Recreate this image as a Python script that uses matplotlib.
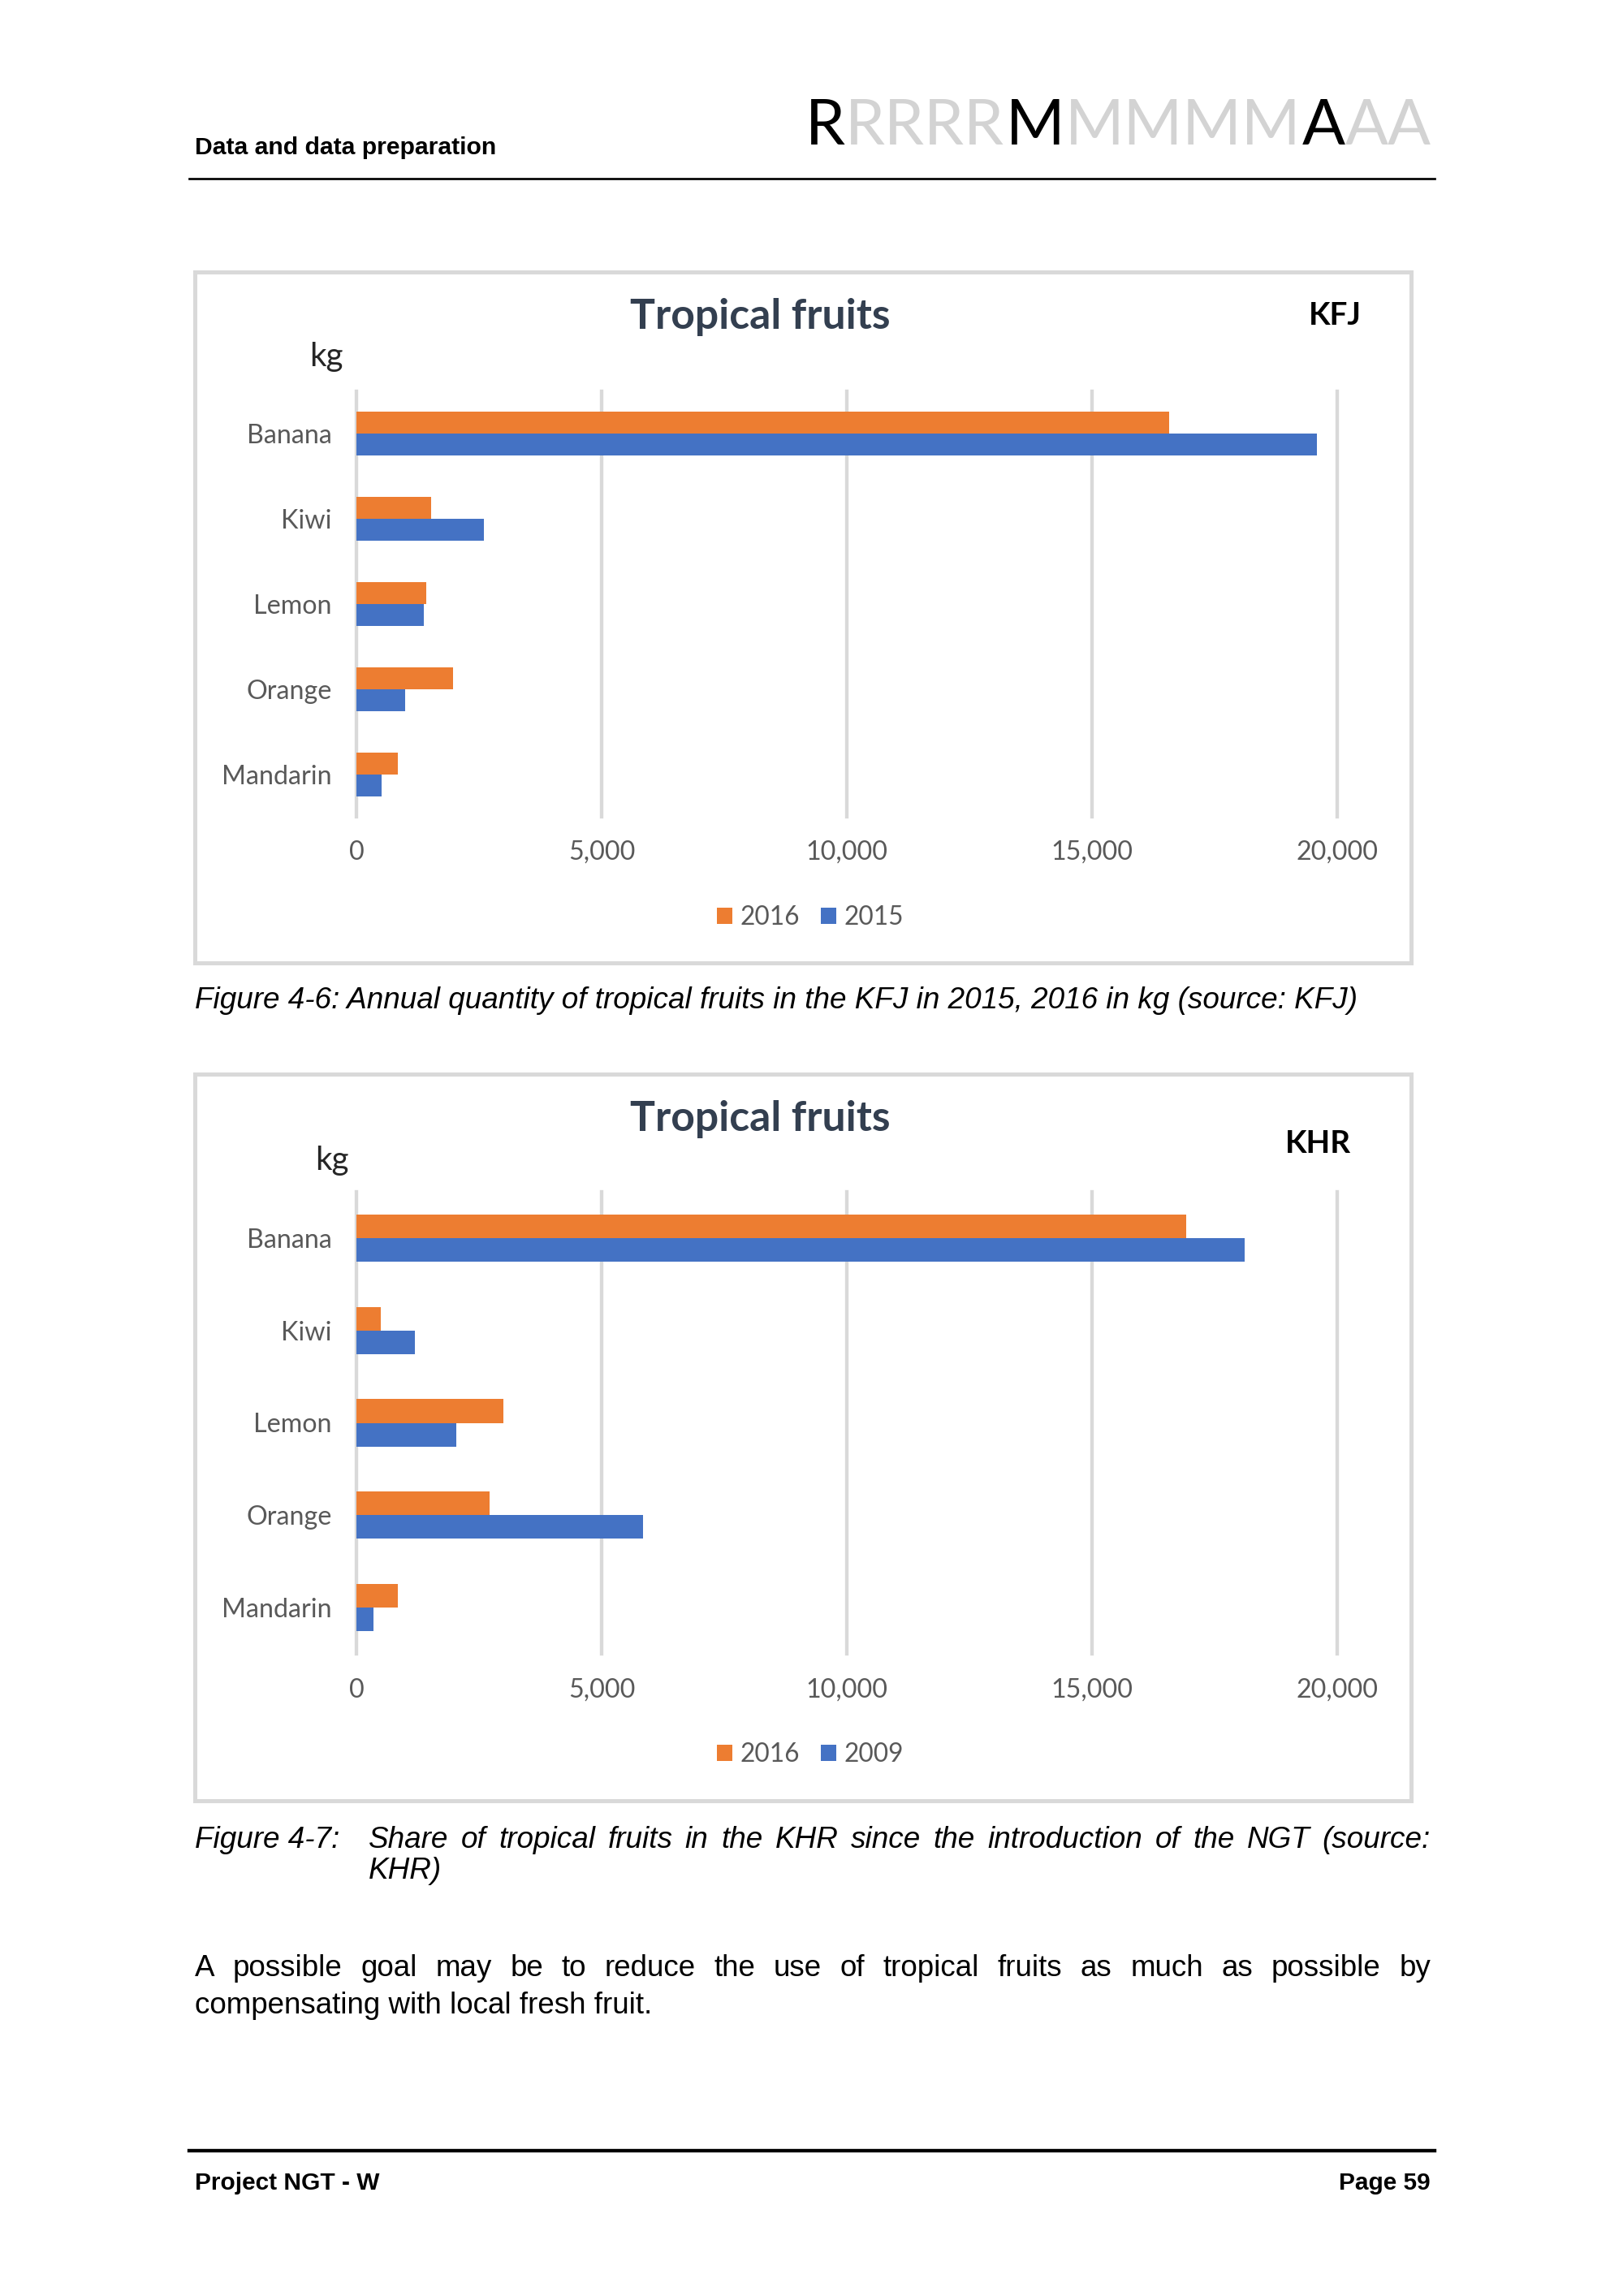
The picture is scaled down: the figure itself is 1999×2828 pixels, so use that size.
import matplotlib
matplotlib.use("Agg")
import matplotlib.pyplot as plt
from matplotlib.patches import Rectangle, Patch
from matplotlib.lines import Line2D

# ---------------- data ----------------
fruits = ["Banana", "Kiwi", "Lemon", "Orange", "Mandarin"]
kfj_2016 = [16570, 1520, 1430, 1970, 840]
kfj_2015 = [19590, 2600, 1380, 1000, 510]
khr_2016 = [16920, 490, 3000, 2710, 840]
khr_2009 = [18110, 1190, 2030, 5850, 350]
x_ticks = [0, 5000, 10000, 15000, 20000]
chart_title = "Tropical fruits"

ORANGE = "#ED7D31"
BLUE = "#4472C4"
GRID = "#D9D9D9"
TXT = "#595959"
TITLE_C = "#333F50"

W, H, DPI = 2000, 2828, 242
fig = plt.figure(figsize=(W / DPI, H / DPI), dpi=DPI)
fig.patch.set_facecolor("white")
renderer = fig.canvas.get_renderer()

def fx(x):
    return x / W

def fy(y):
    return 1 - y / H

BODY = ["Liberation Sans", "DejaVu Sans"]
CHART = ["Lato", "DejaVu Sans"]

def txt(x, y, s, **kw):
    return fig.text(fx(x), fy(y), s, **kw)

def fit(x, y, s, target_w, size=10, **kw):
    t = txt(x, y, s, fontsize=size, **kw)
    w = t.get_window_extent(renderer).width
    t.set_fontsize(size * target_w / w)
    return t.get_fontsize()

def justify(words, x0, x1, y, size, **kw):
    ts = [txt(x0, y, w_, fontsize=size, **kw) for w_ in words]
    widths = [t.get_window_extent(renderer).width for t in ts]
    gap = (x1 - x0 - sum(widths)) / (len(words) - 1)
    x = x0
    for t, w_ in zip(ts, widths):
        t.set_x(fx(x))
        x += w_ + gap

# ---------------- page header ----------------
fit(240, 182, "Data and data preparation", 371, size=9, family=BODY,
    weight="bold", ha="left", va="center", color="black")
fig.add_artist(Line2D([fx(233), fx(1767)], [fy(220), fy(220)], color="black", lw=0.8))

# logo: runs of letters, black lead letter followed by grey echoes
logo_runs = ["R", "RRRR", "M", "MMMM", "A", "AA"]
logo_black = [True, False, True, False, True, False]
logo_size = 21
run_texts = [txt(992, 156, r, fontsize=logo_size, family=CHART, ha="left", va="center",
                 color="black" if b else "#D3D3D3") for r, b in zip(logo_runs, logo_black)]
run_w = [t.get_window_extent(renderer).width for t in run_texts]
scale = 771 / sum(run_w)
xcur = 992
for t, w_ in zip(run_texts, run_w):
    t.set_fontsize(logo_size * scale)
    t.set_x(fx(xcur))
    xcur += w_ * scale

# ---------------- charts ----------------
def chart(box, plot, vals16, valsB, labB, title_y, tag, tag_xy, kg_xy, tick_y, leg_y):
    bx0, by0, bx1, by1 = box
    fig.add_artist(Rectangle((fx(bx0), fy(by1)), fx(bx1) - fx(bx0), fy(by0) - fy(by1),
                             fill=False, edgecolor=GRID, lw=1.5, transform=fig.transFigure))
    px0, py0, px1, py1 = plot
    ax = fig.add_axes([fx(px0), fy(py1), fx(px1) - fx(px0), fy(py0) - fy(py1)])
    h = 0.255
    pos = list(range(len(fruits)))
    ax.barh([p - h / 2 for p in pos], vals16, height=h, color=ORANGE, zorder=3)
    ax.barh([p + h / 2 for p in pos], valsB, height=h, color=BLUE, zorder=3)
    ax.set_ylim(len(fruits) - 0.5, -0.5)
    ax.set_xlim(x_ticks[0], x_ticks[-1])
    ax.set_xticks(x_ticks)
    ax.set_xticklabels([f"{v:,}" for v in x_ticks])
    ax.set_yticks(pos)
    ax.set_yticklabels(fruits)
    for s in ax.spines.values():
        s.set_visible(False)
    ax.grid(axis="x", color=GRID, lw=1.3, zorder=0)
    for gl in ax.get_xgridlines():
        gl.set_clip_on(False)
    ax.tick_params(length=0, labelsize=9.6, labelcolor=TXT)
    ax.tick_params(axis="y", pad=9)
    pad_px = tick_y - py1 - 15
    ax.tick_params(axis="x", pad=pad_px * 72 / DPI)
    for lab in ax.get_xticklabels() + ax.get_yticklabels():
        lab.set_family(CHART)
    ax.set_facecolor("none")

    fit(936, title_y, chart_title, 320, size=14, family=CHART, weight="bold",
        color=TITLE_C, ha="center", va="center")
    txt(tag_xy[0], tag_xy[1], tag, fontsize=11.5, family=CHART, weight="bold",
        color="black", ha="center", va="center")
    txt(kg_xy[0], kg_xy[1], "kg", fontsize=12, family=CHART, color="#262626",
        ha="center", va="center")
    handles = [Patch(facecolor=ORANGE, edgecolor="none"), Patch(facecolor=BLUE, edgecolor="none")]
    fig.legend(handles, ["2016", labB], loc="center", bbox_to_anchor=(fx(998), fy(leg_y)),
               ncol=2, frameon=False, handlelength=0.6, handleheight=0.6,
               handletextpad=0.3, columnspacing=0.8,
               prop={"family": CHART, "size": 9.4}, labelcolor=TXT)
    return ax

chart((240, 335, 1738, 1186), (439, 481.5, 1647, 1006.5), kfj_2016, kfj_2015, "2015",
      390, "KFJ", (1644, 388), (402, 440), 1050, 1130)
chart((240, 1323, 1738, 2218), (439, 1468, 1647, 2037), khr_2016, khr_2009, "2009",
      1378, "KHR", (1623, 1408), (409, 1430), 2082, 2161)

# ---------------- captions & body ----------------
cap_size = fit(240, 1233, "Figure 4-6: Annual quantity of tropical fruits in the KFJ in 2015, 2016 in kg (source: KFJ)",
               1433, size=11, family=BODY, style="italic", ha="left", va="center", color="black")
txt(240, 2266, "Figure 4-7:", fontsize=cap_size, family=BODY, style="italic",
    ha="left", va="center", color="black")
justify("Share of tropical fruits in the KHR since the introduction of the NGT (source:".split(),
        454, 1762, 2266, cap_size, family=BODY, style="italic", ha="left", va="center", color="black")
txt(454, 2305, "KHR)", fontsize=cap_size, family=BODY, style="italic",
    ha="left", va="center", color="black")

body_size = fit(240, 2471, "compensating with local fresh fruit.", 564, size=11,
                family=BODY, ha="left", va="center", color="black")
justify("A possible goal may be to reduce the use of tropical fruits as much as possible by".split(),
        240, 1762, 2424, body_size, family=BODY, ha="left", va="center", color="black")

# ---------------- footer ----------------
fig.add_artist(Line2D([fx(233), fx(1767)], [fy(2649), fy(2649)], color="black", lw=1.3))
fsize = fit(240, 2689, "Project NGT - W", 227, size=9, family=BODY, weight="bold",
            ha="left", va="center", color="black")
txt(1762, 2689, "Page 59", fontsize=fsize, family=BODY, weight="bold",
    ha="right", va="center", color="black")

fig.savefig("out.png", dpi=DPI, facecolor="white")
